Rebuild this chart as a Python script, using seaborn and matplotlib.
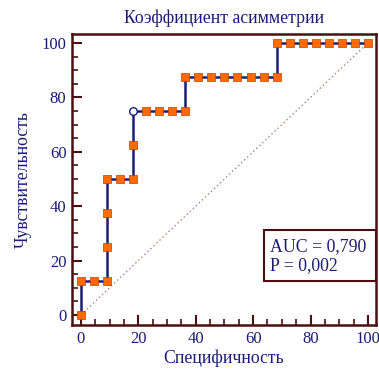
import matplotlib
matplotlib.use("Agg")
import matplotlib.pyplot as plt
from matplotlib.patches import Rectangle
import seaborn as sns
import pandas as pd

# ROC points (100 - specificity, sensitivity)
spec = [0, 0, 4.55, 9.09, 9.09, 9.09, 9.09, 13.64, 18.18, 18.18, 18.18,
        22.73, 27.27, 31.82, 36.36, 36.36, 40.91, 45.45, 50.0, 54.55, 59.09,
        63.64, 68.18, 68.18, 72.73, 77.27, 81.82, 86.36, 90.91, 95.45, 100]
sens = [0, 12.5, 12.5, 12.5, 25, 37.5, 50, 50, 50, 62.5, 75,
        75, 75, 75, 75, 87.5, 87.5, 87.5, 87.5, 87.5, 87.5,
        87.5, 87.5, 100, 100, 100, 100, 100, 100, 100, 100]
open_point = 10  # index of the hollow marker (optimal criterion)
auc_text = "AUC = 0,790"
p_text = "P = 0,002"

navy = "#1c1c78"
brown = "#4a1010"
orange = "#ff6a00"

df = pd.DataFrame({"spec": spec, "sens": sens})
df["kind"] = ["open" if i == open_point else "fill" for i in range(len(df))]

sns.set_style("white")
plt.rcParams["font.family"] = ["Liberation Serif", "DejaVu Serif"]

fig = plt.figure(figsize=(3.79, 3.74), dpi=100)
ax = fig.add_axes([0.19, 0.131, 0.802, 0.778])

# diagonal reference line
sns.lineplot(x=[0, 100], y=[0, 100], ax=ax, color="#b08080", lw=1,
             linestyle=(0, (1, 2)))
sns.lineplot(data=df, x="spec", y="sens", ax=ax, sort=False, estimator=None,
             color=navy, lw=1.8)
sns.scatterplot(data=df[df.kind == "fill"], x="spec", y="sens", ax=ax,
                marker="s", s=32, color=orange, edgecolor="#c04000",
                linewidth=0.5, zorder=5)
sns.scatterplot(data=df[df.kind == "open"], x="spec", y="sens", ax=ax,
                marker="o", s=30, color="white", edgecolor=navy,
                linewidth=1, zorder=6)

ax.set_xlim(-3.1, 102.8)
ax.set_ylim(-3.7, 103.3)
ax.set_xticks(range(0, 101, 20))
ax.set_yticks(range(0, 101, 20))
ax.set_xticks(range(0, 101, 5), minor=True)
ax.set_yticks(range(0, 101, 5), minor=True)
ax.tick_params(which="major", direction="in", length=7, width=1.5,
               color=brown, labelcolor=navy, labelsize=12, pad=4,
               bottom=True, left=True)
ax.tick_params(which="minor", direction="in", length=4, width=1.2,
               color=brown, bottom=True, left=True)
for s in ax.spines.values():
    s.set_color(brown)
    s.set_linewidth(1.8)

ax.set_title("Коэффициент асимметрии", color=navy, fontsize=12.8, pad=8)
ax.set_xlabel("Специфичность", color=navy, fontsize=12.8, labelpad=2)
ax.set_ylabel("Чувствительность", color=navy, fontsize=12.8, labelpad=7)

# statistics box, flush with the right frame
ax.add_patch(Rectangle((0.632, 0.151), 0.368, 0.175, transform=ax.transAxes,
                       fc="white", ec=brown, lw=1.5, zorder=7))
ax.text(0.652, 0.238, auc_text + "\n" + p_text, transform=ax.transAxes,
        ha="left", va="center", color=navy, fontsize=12.8, linespacing=1.15,
        zorder=8)

fig.savefig("out.png", dpi=100)
